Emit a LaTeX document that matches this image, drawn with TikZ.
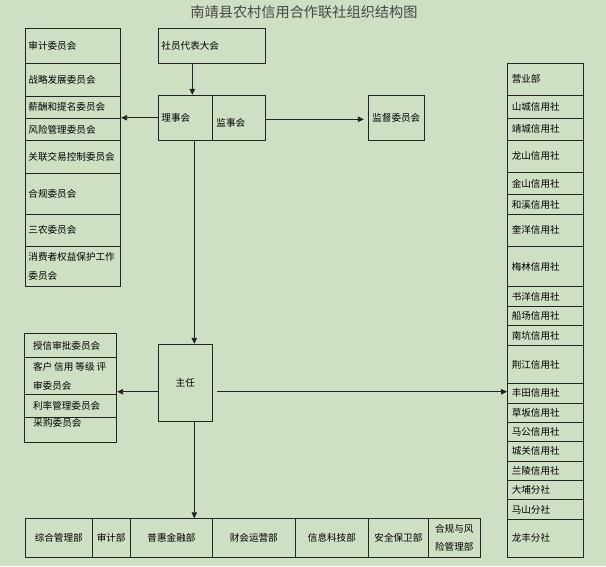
\documentclass[tikz,border=0pt]{standalone}
\usepackage{fontspec}
\newfontfamily\cjk{Noto Sans CJK SC}
\usetikzlibrary{arrows.meta}
\definecolor{bg}{RGB}{207,223,195}
\definecolor{ln}{RGB}{35,35,35}
\tikzset{
 box/.style={draw=ln, line width=0.9pt, inner sep=0pt},
 lbl/.style={font=\cjk\fontsize{9.6}{18.5}\selectfont, text=black, inner sep=0pt, align=left},
 ttl/.style={font=\cjk\fontsize{14.2}{16}\selectfont, text=black!72, inner sep=0pt},
 arr/.style={draw=ln, line width=0.9pt, -{Triangle[length=6pt,width=5.5pt]}},
}
% name x y w h inset text
\newcommand\bx[7]{%
 \node[box, minimum width=#4pt, minimum height=#5pt] (#1) at ({#2+#4/2},{#3+#5/2}) {};
 \node[lbl, anchor=west] (#1t) at ([xshift=#6pt]#1.west) {#7};
}
% name x y w h text (centred)
\newcommand\cbx[6]{%
 \node[box, minimum width=#4pt, minimum height=#5pt] (#1) at ({#2+#4/2},{#3+#5/2}) {};
 \node[lbl, align=center] (#1t) at (#1.center) {#6};
}
\begin{document}
\begin{tikzpicture}[x=1pt,y=-1pt]
\useasboundingbox (0,0) rectangle (606,566);
\fill[bg] (0,0) rectangle (606,566);
\node[ttl] (title) at (304,12.5) {南靖县农村信用合作联社组织结构图};
% left column
\bx{a1}{25.7}{28}{95}{35}{3}{审计委员会}
\bx{a2}{25.7}{63}{95}{33}{3}{战略发展委员会}
\bx{a3}{25.7}{96}{95}{22.3}{3}{薪酬和提名委员会}
\bx{a4}{25.7}{118.3}{95}{22.2}{3}{风险管理委员会}
\bx{a5}{25.7}{140.5}{95}{32.5}{3}{关联交易控制委员会}
\bx{a6}{25.7}{173}{95}{41.3}{3}{合规委员会}
\bx{a7}{25.7}{214.3}{95}{31.7}{3}{三农委员会}
\bx{a8}{25.7}{246}{95}{40.7}{3}{消费者权益保护工作\\委员会}
% top centre
\bx{sy}{158.3}{28}{107}{35}{3.4}{社员代表大会}
\bx{lsh}{158.3}{95.3}{54}{45}{3.4}{理事会}
\node[box, minimum width=53pt, minimum height=45pt] (jsh) at ({212.3+26.5},{95.3+22.5}) {};
\node[lbl, anchor=west] (jsht) at ([xshift=4.4pt,yshift=-5pt]jsh.west) {监事会};
\cbx{jd}{368.3}{95}{56}{45.7}{监督委员会}
% director
\cbx{zr}{158.3}{344.3}{54}{77.4}{主任}
% left block 2
\bx{b1}{24}{333.7}{92.7}{24}{9.3}{授信审批委员会}
\bx{b2}{24}{357.7}{92.7}{37}{9.3}{客户\hspace{2pt}信用\hspace{2pt}等级\hspace{2pt}评\\审委员会}
\bx{b3}{24}{394.7}{92.7}{22.6}{9.3}{利率管理委员会}
\node[box, minimum width=92.7pt, minimum height=25pt] (b4) at ({24+46.35},{417.3+12.5}) {};
\node[lbl, anchor=west] (b4t) at (33.3,422.6) {采购委员会};
% right column
\bx{r1}{507.5}{63}{76}{32.3}{4.5}{营业部}
\bx{r2}{507.5}{95.3}{76}{23}{4.5}{山城信用社}
\bx{r3}{507.5}{118.3}{76}{22}{4.5}{靖城信用社}
\bx{r4}{507.5}{140.3}{76}{32}{4.5}{龙山信用社}
\bx{r5}{507.5}{172.3}{76}{22.4}{4.5}{金山信用社}
\bx{r6}{507.5}{194.7}{76}{19.6}{4.5}{和溪信用社}
\bx{r7}{507.5}{214.3}{76}{32}{4.5}{奎洋信用社}
\bx{r8}{507.5}{246.3}{76}{40.4}{4.5}{梅林信用社}
\bx{r9}{507.5}{286.7}{76}{19.6}{4.5}{书洋信用社}
\bx{r10}{507.5}{306.3}{76}{19.4}{4.5}{船场信用社}
\bx{r11}{507.5}{325.7}{76}{19.6}{4.5}{南坑信用社}
\bx{r12}{507.5}{345.3}{76}{38.4}{4.5}{荆江信用社}
\bx{r13}{507.5}{383.7}{76}{19.3}{4.5}{丰田信用社}
\bx{r14}{507.5}{403}{76}{19.3}{4.5}{草坂信用社}
\bx{r15}{507.5}{422.3}{76}{19.4}{4.5}{马公信用社}
\bx{r16}{507.5}{441.7}{76}{19.3}{4.5}{城关信用社}
\bx{r17}{507.5}{461}{76}{19.3}{4.5}{兰陵信用社}
\bx{r18}{507.5}{480.3}{76}{19.4}{4.5}{大埔分社}
\bx{r19}{507.5}{499.7}{76}{19.3}{4.5}{马山分社}
\bx{r20}{507.5}{519}{76}{38.3}{4.5}{龙丰分社}
% bottom row
\cbx{c1}{25.5}{518.7}{66.5}{38.6}{综合管理部}
\cbx{c2}{92}{518.7}{38.3}{38.6}{审计部}
\cbx{c3}{130.3}{518.7}{82.3}{38.6}{普惠金融部}
\cbx{c4}{212.6}{518.7}{82.4}{38.6}{财会运营部}
\cbx{c5}{295}{518.7}{73.8}{38.6}{信息科技部}
\cbx{c6}{368.8}{518.7}{59.2}{38.6}{安全保卫部}
\cbx{c7}{428}{518.7}{52.5}{38.6}{合规与风\\险管理部}
% connectors
\draw[arr] ([xshift=7pt]lsh.north |- sy.south) -- ([xshift=7pt]lsh.north);
\draw[arr] (lsh.west) -- (lsh.west -| a4.east);
\draw[arr, shorten >=4pt] ([yshift=-1.5pt]jsh.east) -- ([yshift=-1.5pt]jsh.east -| jd.west);
\draw[arr] ([xshift=9pt]lsh.south) -- ([xshift=9pt]zr.north);
\draw[arr] ([yshift=-8.7pt]zr.west) -- ([yshift=-8.7pt]zr.west -| b2.east);
\draw[arr] ([xshift=4.4pt,yshift=-8.7pt]zr.east) -- ([yshift=-8.7pt]zr.east -| r13.west);
\draw[arr] ([xshift=9pt]zr.south) -- ([xshift=9pt]zr.south |- c3.north);
\end{tikzpicture}
\end{document}
